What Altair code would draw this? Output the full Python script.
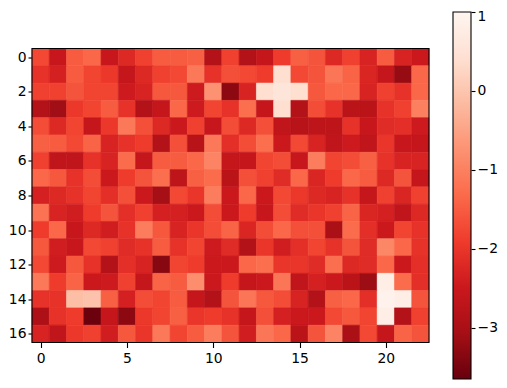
import altair as alt
import pandas as pd

r0 = [-1.75,-2.55,-1.5,-1.35,-2.55,-2.2,-1.85,-1.5,-1.5,-1.45,-2.85,-1.85,-2.85,-2.6,-1.9,-1.45,-1.6,-2.2,-1.85,-2.3,-1.5,-2.3,-2.5]
r1 = [-2.05,-2.35,-1.5,-1.8,-1.95,-2.6,-2.2,-1.85,-1.75,-1.1,-2.05,-1.65,-1.75,-1.9,0.4,-1.75,-1.6,-1.15,-1.4,-2.25,-2.6,-3.2,-1.35]
r2 = [-1.85,-1.85,-1.6,-1.8,-1.8,-2.45,-2.3,-1.55,-1.55,-2.45,-0.75,-3.3,-2.3,0.4,0.55,0.4,-1.55,-1.35,-1.35,-2.3,-1.85,-2.05,-1.35]
r3 = [-2.85,-3.1,-1.95,-1.8,-1.5,-2.05,-2.85,-2.6,-1.35,-2.45,-1.8,-2.05,-1.25,-2.6,0.4,-2.85,-1.7,-2.05,-2.75,-2.75,-2.05,-1.85,-1.0]
r4 = [-1.7,-2.2,-1.8,-2.6,-1.95,-1.1,-1.65,-2.2,-2.5,-1.85,-2.55,-1.7,-2.2,-1.65,-2.65,-2.8,-2.7,-2.7,-2.05,-2.55,-2.15,-2.1,-2.45]
r5 = [-1.45,-1.5,-1.75,-1.4,-2.3,-2.05,-1.9,-2.85,-1.65,-2.8,-1.1,-2.1,-1.7,-1.25,-2.5,-1.75,-2.3,-2.65,-2.45,-2.65,-2.0,-2.55,-2.6]
r6 = [-1.85,-2.65,-2.65,-2.05,-2.3,-1.3,-2.6,-1.5,-1.5,-1.35,-0.95,-2.6,-2.6,-1.8,-1.7,-2.55,-1.05,-1.8,-1.7,-1.45,-2.05,-2.3,-2.3]
r7 = [-1.35,-1.55,-2.05,-1.7,-2.5,-1.9,-1.6,-1.25,-2.7,-1.45,-1.3,-2.75,-1.65,-1.85,-2.15,-1.35,-2.25,-1.9,-1.35,-1.5,-2.2,-1.6,-2.6]
r8 = [-2.35,-2.2,-2.05,-1.8,-2.1,-1.65,-2.5,-3.05,-1.75,-2.0,-1.05,-2.5,-1.35,-2.5,-1.75,-1.95,-2.2,-2.3,-2.05,-2.6,-1.85,-2.25,-1.85]
r9 = [-1.2,-2.3,-2.4,-1.9,-1.6,-2.1,-1.85,-2.35,-2.35,-2.5,-1.7,-2.5,-1.9,-2.55,-1.7,-2.15,-2.0,-1.85,-1.4,-2.25,-2.35,-2.65,-2.2]
r10 = [-1.9,-1.35,-2.55,-2.2,-2.4,-2.05,-1.05,-1.55,-2.3,-2.0,-1.7,-1.4,-2.25,-1.7,-1.35,-1.65,-1.65,-3.0,-1.3,-2.1,-2.5,-1.8,-2.05]
r11 = [-1.55,-2.4,-2.55,-1.75,-1.85,-2.15,-2.05,-1.5,-2.05,-1.8,-2.45,-2.15,-2.85,-2.0,-2.4,-2.1,-1.8,-2.05,-1.6,-2.15,-0.9,-1.35,-2.05]
r12 = [-1.75,-2.45,-1.55,-2.05,-2.85,-2.1,-2.3,-3.35,-1.8,-1.9,-2.5,-2.5,-1.35,-1.25,-2.0,-2.0,-2.15,-1.25,-2.2,-2.15,-1.35,-2.5,-2.1]
r13 = [-1.1,-1.9,-1.4,-2.5,-2.45,-1.85,-2.6,-1.4,-1.5,-0.8,-2.5,-1.9,-2.6,-2.5,-1.15,-2.65,-2.35,-2.5,-2.75,-3.15,0.8,-1.3,-2.1]
r14 = [-2.05,-2.05,-0.1,-0.05,-1.45,-2.35,-1.7,-1.8,-1.5,-2.6,-2.85,-1.6,-1.15,-1.55,-1.7,-2.3,-2.85,-1.45,-1.35,-2.1,0.9,0.8,-1.6]
r15 = [-2.95,-2.05,-1.9,-3.6,-2.6,-3.3,-1.95,-1.8,-1.45,-2.0,-1.9,-2.05,-2.6,-1.65,-2.35,-2.5,-2.5,-1.75,-1.55,-1.8,0.8,-2.85,-1.85]
r16 = [-2.3,-2.65,-1.95,-1.85,-2.4,-1.55,-2.0,-1.1,-1.8,-1.5,-1.05,-1.6,-2.4,-1.15,-1.35,-2.75,-1.6,-0.95,-3.0,-1.75,-2.6,-1.4,-1.6]
rows = [r0,r1,r2,r3,r4,r5,r6,r7,r8,r9,r10,r11,r12,r13,r14,r15,r16]

stops = [-3.65,-3.069,-2.488,-1.906,-1.325,-0.744,-0.163,0.419,1.0]
colors = ["#67000d","#a50f15","#cb181d","#ef3b2c","#fb6a4a","#fc9272","#fcbba1","#fee0d2","#fff5f0"]
x_ticks = [0,5,10,15,20]
y_ticks = [0,2,4,6,8,10,12,14,16]
bar_ticks = [1,0,-1,-2,-3]

records = []
for j, row in enumerate(rows):
    for i, v in enumerate(row):
        records.append(dict(x0=i-0.5, x1=i+0.5, y0=j-0.5, y1=j+0.5, v=v))
df = pd.DataFrame(records)
extent = pd.DataFrame({"x0":[-0.5],"x1":[22.5],"y0":[-0.5],"y1":[16.5]})

FONT = "DejaVu Sans"
axis_style = dict(grid=False, labelFont=FONT, labelFontSize=13.9, labelColor="black",
                  tickColor="black", tickWidth=1.1, domain=False,
                  title=None, labelFlush=False, labelOverlap=False)

color_scale = alt.Scale(domain=stops, range=colors, clamp=True, interpolate="rgb")
x_enc = alt.X("x0:Q", scale=alt.Scale(domain=[-0.5,22.5], nice=False, zero=False),
              axis=alt.Axis(values=x_ticks, labelAngle=0, tickSize=5, labelPadding=4, **axis_style))
y_enc = alt.Y("y0:Q", scale=alt.Scale(domain=[16.5,-0.5], nice=False, zero=False),
              axis=alt.Axis(values=y_ticks, tickSize=4, labelPadding=2, **axis_style))

cells = alt.Chart(df).mark_rect(strokeWidth=0.6).encode(
    x=x_enc, x2="x1:Q", y=y_enc, y2="y1:Q",
    color=alt.Color("v:Q", scale=color_scale, legend=None),
    stroke=alt.Stroke("v:Q", scale=color_scale, legend=None),
)
frame = alt.Chart(extent).mark_rect(fill="transparent", stroke="black", strokeWidth=1.1).encode(
    x=x_enc, x2="x1:Q", y=y_enc, y2="y1:Q",
)
main = alt.layer(cells, frame).properties(width=397, height=294)

grad = alt.LinearGradient(gradient="linear", x1=0, x2=0, y1=1, y2=0,
    stops=[alt.GradientStop(offset=(s-stops[0])/(stops[-1]-stops[0]), color=c) for s, c in zip(stops, colors)])

bar = alt.Chart(pd.DataFrame({"a":[stops[0]], "b":[stops[-1]]})).mark_rect(
    color=grad, stroke="black", strokeWidth=1.1
).encode(
    y=alt.Y("a:Q", scale=alt.Scale(domain=[stops[0], stops[-1]], nice=False, zero=False),
            axis=alt.Axis(values=bar_ticks, orient="right", format="d", tickSize=4, labelPadding=2,
                          labelOffset=alt.ExprRef("datum.value == 1 ? 4 : 0"),
                          labelExpr="replace(format(datum.value,'d'),'-','\u2212')", **axis_style)),
    y2="b:Q",
).properties(width=18, height=367)

chart = alt.hconcat(main, bar, spacing=24, center=True, bounds="flush").properties(
    autosize=alt.AutoSizeParams(type="none"),
    padding={"left":24,"top":4,"right":467,"bottom":368},
    background="white",
).configure_view(stroke=None)

chart.save("out.html", embed_options={"renderer": "svg", "actions": False})
